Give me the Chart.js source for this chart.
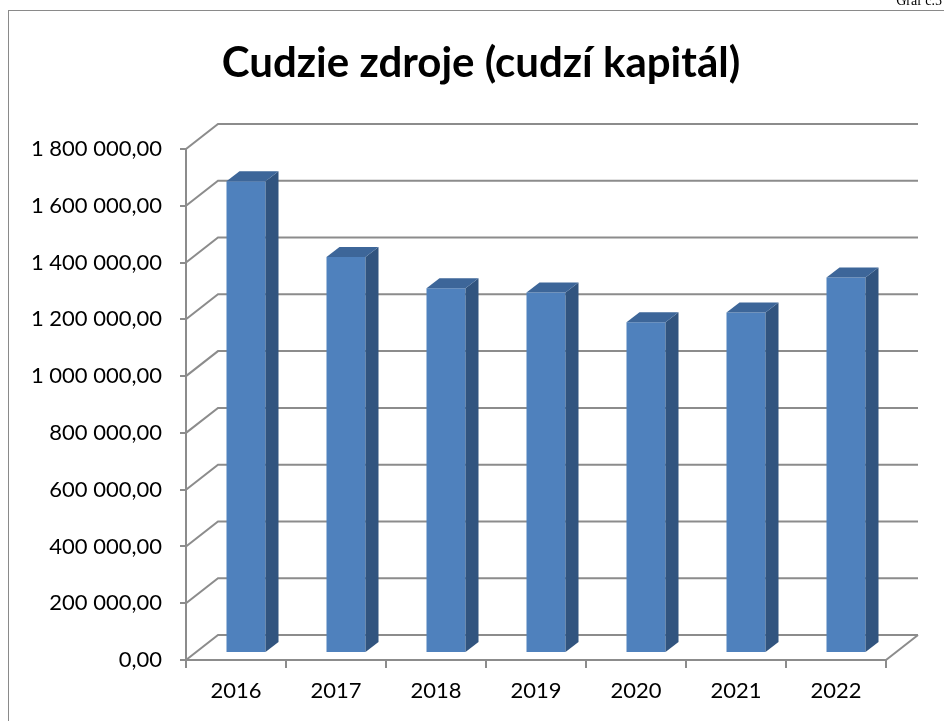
<!DOCTYPE html>
<html>
<head>
<meta charset="utf-8">
<script src="https://cdn.jsdelivr.net/npm/chart.js@4"></script>
<style>
  html, body { margin: 0; padding: 0; background: #ffffff; }
  #wrap { width: 944px; height: 721px; position: relative; }
</style>
</head>
<body>
<div id="wrap"><canvas id="graf"></canvas></div>
<script>
// Dáta grafu
const roky = ['2016', '2017', '2018', '2019', '2020', '2021', '2022'];
const cudzieZdroje = [1662000, 1395000, 1285000, 1270000, 1165000, 1199000, 1323000];
const osY = { min: 0, max: 1800000, krok: 200000 };
const nadpis = 'Cudzie zdroje (cudzí kapitál)';
const oznacenie = 'Graf č.5';

// 3D posuny (hĺbka steny a stĺpca)
const stena = { dx: 32, dy: -25 };
const stlpecPosun = { dx: 10, dy: -7 };
const stlpecHlbka = { dx: 13, dy: -10 };
const sivaCiara = '#8c8c8c';

function formatCislo(v) {
    const s = Math.round(v).toString().replace(/\B(?=(\d{3})+(?!\d))/g, ' ');
    return s + ',00';
}

const plugin3D = {
    id: 'plugin3D',
    beforeDraw(chart) {
        const ctx = chart.ctx;
        ctx.save();
        ctx.fillStyle = '#ffffff';
        ctx.fillRect(0, 0, chart.width, chart.height);
        // rámik okolo grafu
        ctx.strokeStyle = '#8a8a8a';
        ctx.lineWidth = 1;
        ctx.strokeRect(8.5, 10.5, chart.width + 20, chart.height + 20);
        // označenie vpravo hore
        ctx.fillStyle = '#000000';
        ctx.font = '14px "Liberation Serif"';
        ctx.textAlign = 'right';
        ctx.textBaseline = 'alphabetic';
        ctx.fillText(oznacenie, 942, 5);
        // nadpis
        ctx.font = 'bold 42px Lato';
        ctx.textAlign = 'center';
        ctx.textBaseline = 'middle';
        ctx.fillText(nadpis, 481, 63);
        ctx.restore();
    },
    beforeDatasetsDraw(chart) {
        const ctx = chart.ctx;
        const { left, right, bottom } = chart.chartArea;
        const y = chart.scales.y;
        ctx.save();
        ctx.strokeStyle = sivaCiara;
        ctx.lineWidth = 2;
        ctx.beginPath();
        y.ticks.forEach(t => {
            const py = y.getPixelForValue(t.value);
            ctx.moveTo(left, py);
            ctx.lineTo(left + stena.dx, py + stena.dy);
            ctx.lineTo(right + stena.dx, py + stena.dy);
        });
        // pravá hrana podlahy
        ctx.moveTo(right, bottom);
        ctx.lineTo(right + stena.dx, bottom + stena.dy);
        ctx.stroke();
        ctx.restore();

        // posun stĺpcov do hĺbky
        ctx.save();
        ctx.translate(stlpecPosun.dx, stlpecPosun.dy);
    },
    afterDatasetsDraw(chart) {
        const ctx = chart.ctx;
        const meta = chart.getDatasetMeta(0);
        meta.data.forEach(bar => {
            const p = bar.getProps(['x', 'y', 'base', 'width'], true);
            const l = p.x - p.width / 2;
            const r = p.x + p.width / 2;
            // bočná stena
            ctx.fillStyle = '#31547f';
            ctx.beginPath();
            ctx.moveTo(r, p.y);
            ctx.lineTo(r + stlpecHlbka.dx, p.y + stlpecHlbka.dy);
            ctx.lineTo(r + stlpecHlbka.dx, p.base + stlpecHlbka.dy);
            ctx.lineTo(r, p.base);
            ctx.closePath();
            ctx.fill();
            // vrchná stena
            ctx.fillStyle = '#3d6699';
            ctx.beginPath();
            ctx.moveTo(l, p.y);
            ctx.lineTo(l + stlpecHlbka.dx, p.y + stlpecHlbka.dy);
            ctx.lineTo(r + stlpecHlbka.dx, p.y + stlpecHlbka.dy);
            ctx.lineTo(r, p.y);
            ctx.closePath();
            ctx.fill();
        });
        ctx.restore();
    }
};

const ctx = document.getElementById('graf').getContext('2d');
new Chart(ctx, {
    type: 'bar',
    data: {
        labels: roky,
        datasets: [{
            label: 'Cudzie zdroje',
            data: cudzieZdroje,
            backgroundColor: '#4f81bd',
            borderWidth: 0,
            barPercentage: 0.39,
            categoryPercentage: 1.0,
            clip: false
        }]
    },
    options: {
        responsive: true,
        maintainAspectRatio: false,
        animation: false,
        layout: { padding: { top: 149, right: 58, left: 0, bottom: 0 } },
        plugins: {
            legend: { display: false },
            tooltip: { enabled: false }
        },
        scales: {
            x: {
                grid: { drawOnChartArea: false, drawTicks: true, tickLength: 8, color: sivaCiara, lineWidth: 2 },
                border: { display: true, color: sivaCiara, width: 2 },
                ticks: { color: '#000000', font: { family: 'Lato', size: 22 }, padding: 10 },
                afterFit: s => { s.height = 61; }
            },
            y: {
                min: osY.min,
                max: osY.max,
                grid: { drawOnChartArea: false, drawTicks: true, tickLength: 6, color: sivaCiara, lineWidth: 2 },
                border: { display: true, color: sivaCiara, width: 2 },
                ticks: {
                    stepSize: osY.krok,
                    color: '#000000',
                    font: { family: 'Lato', size: 22 },
                    padding: 18,
                    callback: v => formatCislo(v)
                },
                afterFit: s => { s.width = 186; }
            }
        }
    },
    plugins: [plugin3D]
});
</script>
</body>
</html>
